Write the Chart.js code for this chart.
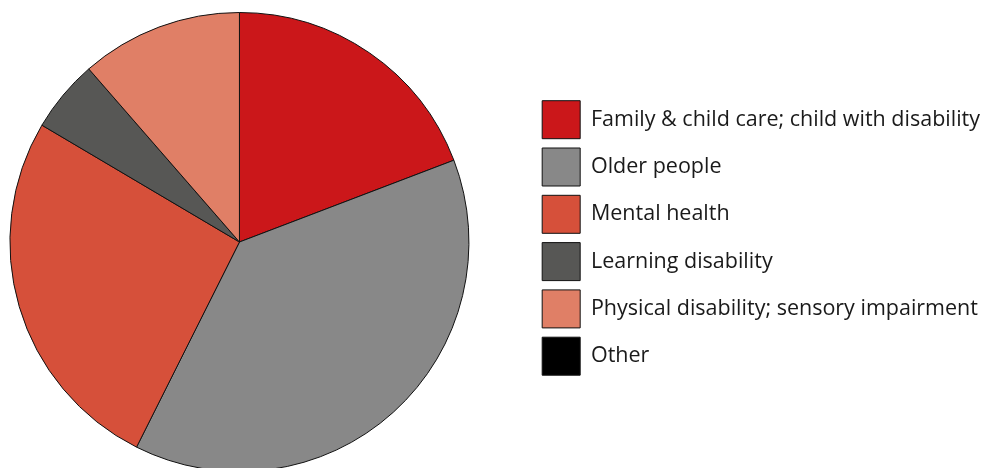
<!DOCTYPE html>
<html>
<head>
<meta charset="utf-8">
<script src="https://cdn.jsdelivr.net/npm/chart.js@4/dist/chart.umd.min.js"></script>
<style>
    html, body { margin: 0; padding: 0; background: #fff; overflow: hidden; }
    body { width: 992px; height: 468px; position: relative; }
    /* the pie sits a little left of the canvas edge and runs off the bottom */
    #wrap { position: absolute; left: -54px; top: 0; width: 1046px; height: 484px; }
</style>
</head>
<body>
<div id="wrap"><canvas id="visu"></canvas></div>
<script>
// Répartition par groupe de clients (%)
const categories = [
    'Family & child care; child with disability',
    'Older people',
    'Mental health',
    'Learning disability',
    'Physical disability; sensory impairment',
    'Other'
];
const parts = [19.2, 38.2, 26.1, 5.1, 11.4, 0];
const couleurs = ['#cb171a', '#888888', '#d6503a', '#575755', '#e07f66', '#000000'];

const data = {
    labels: categories,
    datasets: [{
        data: parts,
        backgroundColor: couleurs,
        borderColor: '#111111',
        borderWidth: 1
    }]
};

const config = {
    type: 'pie',
    data: data,
    options: {
        responsive: true,
        maintainAspectRatio: false,
        animation: false,
        layout: {
            padding: { top: 12, bottom: 12, left: 0, right: 2 }
        },
        plugins: {
            tooltip: { enabled: false },
            legend: {
                position: 'right',
                align: 'start',
                // empty title only pushes the list down
                title: {
                    display: true,
                    text: '',
                    font: { size: 10, lineHeight: 1 },
                    padding: { top: 69.4, bottom: 0 }
                },
                labels: {
                    boxWidth: 38,
                    boxHeight: 38,
                    padding: 9.3,
                    color: '#1a1a1a',
                    font: { family: "'Open Sans', sans-serif", size: 21.5 }
                }
            }
        }
    }
};

const ctx = document.getElementById('visu').getContext('2d');
new Chart(ctx, config);
</script>
</body>
</html>
